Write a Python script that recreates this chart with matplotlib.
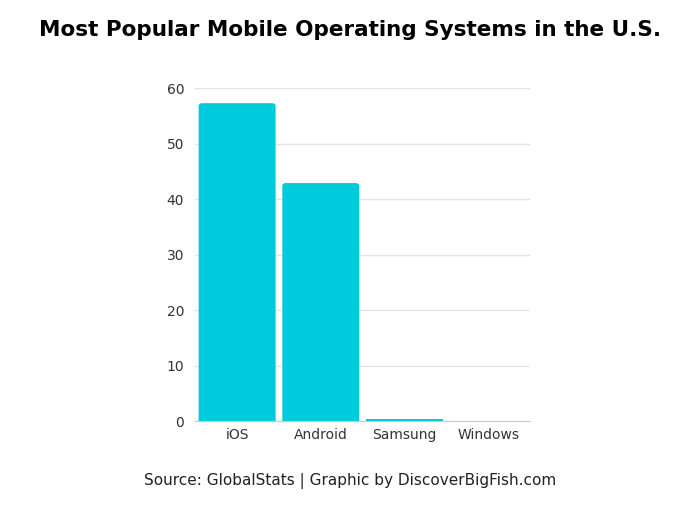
import matplotlib
matplotlib.use("Agg")
import matplotlib.pyplot as plt
from matplotlib.patches import FancyBboxPatch

# data
systems = ["iOS", "Android", "Samsung", "Windows"]
share = [57.3, 42.9, 0.3, 0.05]
yticks = [0, 10, 20, 30, 40, 50, 60]

plt.rcParams['font.family'] = ['DejaVu Sans']

fig = plt.figure(figsize=(7, 5.25), dpi=100)
ax = fig.add_axes([0.279, 0.198, 0.478, 0.634])

bars = ax.bar(range(len(systems)), share, width=0.92, color='#00CBDC', zorder=3)

# swap plain rectangles for ones with slightly rounded tops
# (rounded box starts below zero so the axes clip hides the bottom corners)
for b in bars:
    x, y = b.get_x(), b.get_y()
    w, h = b.get_width(), b.get_height()
    if h < 1:
        continue
    b.set_visible(False)
    rp = FancyBboxPatch((x, y - 3), w, h + 3, boxstyle="round,pad=0,rounding_size=0.04",
                        mutation_aspect=15, facecolor='#00CBDC', linewidth=0, zorder=3)
    ax.add_patch(rp)

ax.set_xlim(-0.5, len(systems) - 0.5)
ax.set_ylim(0, 60)
ax.set_yticks(yticks)
ax.set_xticks(range(len(systems)))
ax.set_xticklabels(systems)
ax.tick_params(axis='both', length=0, labelsize=10, colors='#333333')
ax.tick_params(axis='y', pad=8)
ax.tick_params(axis='x', pad=5)

ax.yaxis.grid(True, color='#e3e3e3', linewidth=1, zorder=0)
for s in ['top', 'right', 'left']:
    ax.spines[s].set_visible(False)
ax.spines['bottom'].set_color('#cccccc')
ax.spines['bottom'].set_zorder(4)

fig.text(0.5, 0.943, "Most Popular Mobile Operating Systems in the U.S.",
         ha='center', va='center', fontsize=15.5, fontweight='bold', color='black')
fig.text(0.5, 0.084, "Source: GlobalStats | Graphic by DiscoverBigFish.com",
         ha='center', va='center', fontsize=11, color='#222222')

fig.savefig("out.png", dpi=100)
